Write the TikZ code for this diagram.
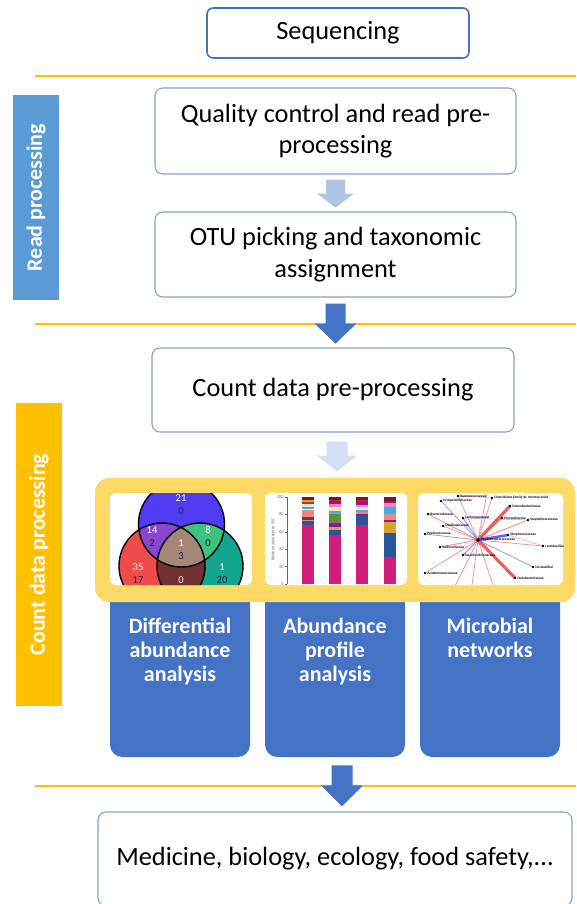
\documentclass[tikz,border=0pt]{standalone}
\usepackage{fontspec}
\setmainfont{Carlito}
\usetikzlibrary{positioning,calc}
\definecolor{hlblue}{RGB}{68,114,196}
\definecolor{hlsky}{RGB}{91,155,213}
\definecolor{hlgold}{RGB}{255,192,0}
\definecolor{hlpale}{RGB}{255,217,102}
\definecolor{boxline}{RGB}{125,160,212}
\definecolor{arrowlt}{RGB}{176,196,230}
\definecolor{arrowpale}{RGB}{214,222,242}
% venn colours
\definecolor{vnblue}{RGB}{80,60,245}
\definecolor{vnred}{RGB}{240,75,75}
\definecolor{vnteal}{RGB}{20,165,145}
\definecolor{vnpurple}{RGB}{135,70,205}
\definecolor{vngreen}{RGB}{60,195,125}
\definecolor{vnbrown}{RGB}{115,50,50}
\definecolor{vntan}{RGB}{165,135,120}
\definecolor{vndark}{RGB}{40,30,70}
% bar colours
\definecolor{barmag}{RGB}{210,30,120}
\definecolor{barnavy}{RGB}{40,85,155}
\definecolor{bargold}{RGB}{210,165,45}
\definecolor{barpurple}{RGB}{150,20,150}
\definecolor{bargreen}{RGB}{105,140,60}
\definecolor{barsalmon}{RGB}{235,135,125}
\definecolor{barcyan}{RGB}{50,180,230}
\definecolor{barcream}{RGB}{240,230,200}
\definecolor{barpink}{RGB}{240,130,200}
\definecolor{barred}{RGB}{200,40,40}
\definecolor{bardark}{RGB}{130,20,25}
% network colours
\definecolor{netred}{RGB}{230,70,70}
\definecolor{netblue}{RGB}{70,70,230}
\def\px{0.02cm}
% block arrow: colour, anchor, gap, shaft half width, shaft length, head half width, head length
\newcommand{\flowarrow}[7]{%
  \fill[#1] ($(#2)+(-#4,#3)$) -- ++(2*#4,0) -- ++(0,#5) -- ++(#6-#4,0)
    -- ++(-#6,#7) -- ++(-#6,-#7) -- ++(#6-#4,0) -- cycle;}
\tikzset{
  procbox/.style={draw=boxline, line width=0.6pt, fill=white, rounded corners=4.5pt,
    minimum width=361*\px, inner sep=0pt, align=center, font=\fontsize{15}{18}\selectfont},
  sidebar/.style={minimum height=46*\px, inner sep=0pt, rotate=90, text=white,
    font=\fontsize{12.5}{14}\selectfont\bfseries},
  panel/.style={fill=hlblue, rounded corners=7pt, minimum width=140*\px,
    minimum height=167*\px, inner sep=0pt},
  paneltext/.style={anchor=north, inner sep=0pt, align=center, text=white,
    font=\fontsize{12.5}{13.6}\selectfont\bfseries},
  vnum/.style={inner sep=0pt, font=\fontsize{6}{7}\selectfont},
  tiny/.style={inner sep=0pt, text=black!60, font=\fontsize{2.5}{3}\selectfont},
  netlabel/.style={anchor=west, inner sep=0pt, font=\fontsize{2}{2.4}\selectfont\bfseries},
}
\begin{document}
\begin{tikzpicture}[x=0.02cm, y=-0.02cm]
\useasboundingbox (0,0) rectangle (576,904);

% section rules
\foreach \ry in {76,324,786}
  \draw[hlgold, line width=0.7pt] (35,\ry) -- (576,\ry);

% side bars
\node[sidebar, fill=hlsky, minimum width=205*\px] (readbar) at (36,197.5) {Read processing};
\node[sidebar, fill=hlgold, minimum width=303*\px] (countbar) at (39,554.5) {Count data processing};

% process boxes
\node[procbox, draw=hlblue, line width=0.9pt, rounded corners=3.5pt,
  minimum width=262*\px, minimum height=50*\px] (seq) at (338,33) {Sequencing};
\node[procbox, minimum height=86*\px] (qc) at (335.5,131) {Quality control and read pre-\\processing};
\node[procbox, minimum height=85*\px] (otu) at (335.5,254.5) {OTU picking and taxonomic\\assignment};
\node[procbox, minimum width=362*\px, minimum height=84*\px] (cnt) at (333,390) {Count data pre-processing};

% analysis panels
\node[panel] (diff) at (180,673.5) {};
\node[panel] (prof) at (335,673.5) {};
\node[panel] (netw) at (490,673.5) {};
\node[paneltext] (difftxt) at ($(diff.north)+(0,28)$) {Differential\\abundance\\analysis};
\node[paneltext] (proftxt) at ($(prof.north)+(0,28)$) {Abundance\\profile\\analysis};
\node[paneltext] (netwtxt) at ($(netw.north)+(0,28)$) {Microbial\\networks};

% tray holding the three thumbnails
\node[fill=hlpale, rounded corners=8pt, minimum width=480*\px, minimum height=124*\px,
  inner sep=0pt] (tray) at (335,540) {};

% thumbnail 1: venn diagram
\fill[white, rounded corners=3.4pt] (110,493) rectangle (252,585);
\begin{scope}
  \clip[rounded corners=3.4pt] (110,493) rectangle (252,585);
  \coordinate (vb) at (181.5,524);
  \coordinate (vr) at (162,566);
  \coordinate (vt) at (200,566);
  \fill[vnred] (vr) circle (43);
  \fill[vnteal] (vt) circle (43);
  \fill[vnblue] (vb) circle (43);
  \begin{scope}
    \clip (vb) circle (43);
    \fill[vnpurple] (vr) circle (43);
    \fill[vngreen] (vt) circle (43);
  \end{scope}
  \begin{scope}
    \clip (vr) circle (43);
    \fill[vnbrown] (vt) circle (43);
    \clip (vb) circle (43);
    \fill[vntan] (vt) circle (43);
  \end{scope}
  \draw[black, line width=0.8pt] (vb) circle (43) (vr) circle (43) (vt) circle (43);
  \node[vnum, white] (v21) at (181,498) {21};
  \node[vnum, vndark] (v0a) at (181,511) {0};
  \node[vnum, white] (v14) at (152,530) {14};
  \node[vnum, vndark] (v2) at (152,543) {2};
  \node[vnum, white] (v8) at (208,530) {8};
  \node[vnum, vndark] (v0b) at (208,543) {0};
  \node[vnum, white] (v1a) at (181,543) {1};
  \node[vnum, vndark] (v3) at (181,556) {3};
  \node[vnum, white] (v35) at (138,567) {35};
  \node[vnum, vndark] (v17) at (138,580) {17};
  \node[vnum, white] (v0c) at (181,580) {0};
  \node[vnum, white] (v1b) at (222,567) {1};
  \node[vnum, vndark] (v20) at (222,580) {20};
\end{scope}

% thumbnail 2: stacked bars
\fill[white, rounded corners=3.4pt] (265,493) rectangle (407,585);
\draw[black!60, line width=0.2pt] (287,497) -- (287,584);
\foreach \tv in {0,20,...,100} {
  \draw[black!60, line width=0.2pt] (287,{584-0.87*\tv}) -- ++(-2,0);
  \node[tiny, anchor=east] at (284,{584-0.87*\tv}) {\tv};
}
\node[tiny, rotate=90] (ylab) at (273,540) {Relative abundance (\%)};
\foreach \bx/\stack in {
  308/{68/barmag,4/barnavy,2/bargold,3/barpurple,8/barsalmon,1/white,3/barcyan,3/barcream,2/barred,2/bargold,4/bardark},
  335/{56/barmag,6/barnavy,3/bargold,5/barpurple,10/bargreen,2/barsalmon,2/barcyan,5/barcream,3/barpink,3/barpurple,2/barred,3/bardark},
  362/{68/barmag,10/barnavy,2/barpurple,3/barsalmon,2/barcyan,4/barcream,2/barpink,4/barpurple,2/barred,3/bardark},
  390/{31/barmag,28/barnavy,12/bargold,2/barpurple,7/barsalmon,9/barcyan,4/barpink,2/barpurple,5/bardark}} {
  \xdef\acc{0}
  \foreach \v/\c in \stack {
    \fill[\c] (\bx-6,{584-0.87*\acc}) rectangle (\bx+6,{584-0.87*(\acc+\v)});
    \pgfmathsetmacro\nacc{\acc+\v}
    \xdef\acc{\nacc}
  }
}

% thumbnail 3: co-occurrence network
\fill[white, rounded corners=3.4pt] (418,493) rectangle (563,585);
\begin{scope}
  \clip[rounded corners=3.4pt] (418,493) rectangle (563,585);
  \coordinate (hub) at (478,540);
  \foreach \n/\nx/\ny/\t in {
    1/458/496/Ruminococcaceae, 2/441/501/Erysipelotrichaceae,
    3/492/498/Clostridiales Family XI. Incertae Sedis, 4/510/506/Enterobacteriaceae,
    5/428/514/Bacteroidaceae, 6/463/518/Lachnospiraceae, 7/502/518/Prevotellaceae,
    8/528/520/Staphylococcaceae, 9/443/526/Oscillospiraceae, 10/425/534/Peptococcaceae,
    11/508/535/Streptococcaceae, 12/440/547/Veillonellaceae, 13/543/546/Lactobacillaceae,
    14/463/555/Desulfovibrionaceae, 15/533/567/Unclassified, 16/425/573/Acidaminococcaceae,
    17/515/578/Coriobacteriaceae}
    \coordinate (n\n) at (\nx,\ny);
  \coordinate (o1) at (470,600);
  \coordinate (o2) at (448,600);
  \coordinate (o3) at (498,600);
  \coordinate (o4) at (488,488);
  \foreach \n/\c/\w in {1/netred/0.4, 2/netblue/0.4, 3/netred/0.4, 5/netred/0.5,
    6/netblue/0.5, 7/netred/0.6, 8/netred/0.5, 9/netred/0.4, 10/netblue/0.4,
    12/netred/0.5, 13/netred/0.4, 14/netblue/0.6, 15/netblue/0.4, 16/netred/0.4}
    \draw[\c, opacity=0.6, line width=\w pt] (hub) -- (n\n);
  \foreach \o in {o1,o2,o3,o4}
    \draw[netred, opacity=0.6, line width=0.4pt] (hub) -- (\o);
  \draw[netblue, opacity=0.5, line width=0.3pt] (n6) -- (n8);
  \draw[netred, opacity=0.5, line width=0.3pt] (n1) -- (n3);
  \draw[netred, opacity=0.5, line width=0.3pt] (n13) -- (n11);
  \draw[netred, opacity=0.85, line width=1.8pt] (hub) -- (n4);
  \draw[netred, opacity=0.85, line width=1.8pt] (hub) -- (n17);
  \draw[netblue, opacity=0.85, line width=1.4pt] (hub) -- (n11);
  \foreach \n/\nx/\ny/\t in {
    1/458/496/Ruminococcaceae, 2/441/501/Erysipelotrichaceae,
    3/492/498/Clostridiales Family XI. Incertae Sedis, 4/510/506/Enterobacteriaceae,
    5/428/514/Bacteroidaceae, 6/463/518/Lachnospiraceae, 7/502/518/Prevotellaceae,
    8/528/520/Staphylococcaceae, 9/443/526/Oscillospiraceae, 10/425/534/Peptococcaceae,
    11/508/535/Streptococcaceae, 12/440/547/Veillonellaceae, 13/543/546/Lactobacillaceae,
    14/463/555/Desulfovibrionaceae, 15/533/567/Unclassified, 16/425/573/Acidaminococcaceae,
    17/515/578/Coriobacteriaceae} {
    \fill[black] (n\n) circle (1.3);
    \node[netlabel] (t\n) at ($(n\n)+(2,0)$) {\t};
  }
  \fill[black] (hub) circle (1.8);
  \node[netlabel] (thub) at ($(hub)+(3,0)$) {Peptostreptococcaceae};
\end{scope}

% block arrows between the stages
\flowarrow{arrowlt}{qc.south}{5}{9.5}{14}{18.5}{14}
\flowarrow{hlblue}{otu.south}{6}{10}{20}{21}{20}
\coordinate (a3) at ($(cnt.south)+(4,0)$);
\flowarrow{arrowpale}{a3}{9}{10.5}{14}{20}{16}
\coordinate (a4) at ($(prof.south)+(7,0)$);
\flowarrow{hlblue}{a4}{8}{10.5}{20}{21}{21}

% application box
\node[procbox, minimum width=474*\px, minimum height=94*\px] (apps) at (335,859)
  {Medicine, biology, ecology, food safety,...};
\end{tikzpicture}
\end{document}
